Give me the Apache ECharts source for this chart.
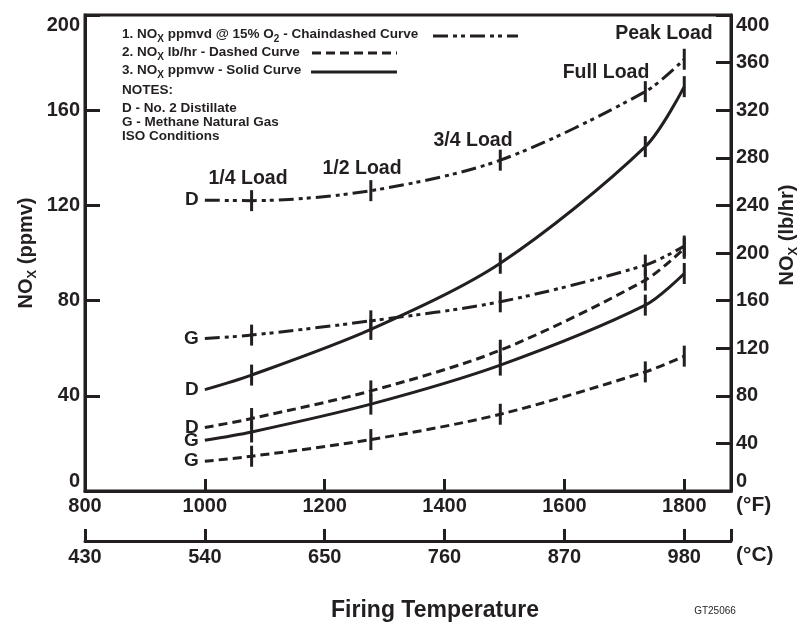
<!DOCTYPE html>
<html>
<head>
<meta charset="utf-8">
<script src="https://cdn.jsdelivr.net/npm/echarts@6/dist/echarts.min.js"></script>
<style>html,body{margin:0;padding:0;background:#fff;}#c{width:806px;height:625px;}</style>
</head>
<body>
<div id="c"></div>
<script>
// ---- data ----
const tempF = [1000, 1078, 1277, 1493, 1735, 1800];          // start, 1/4, 1/2, 3/4, Full, Peak load
const fTicks = [800, 1000, 1200, 1400, 1600, 1800];
const cLabels = ['430', '540', '650', '760', '870', '980'];
const ppmvdD = [122.2, 122.0, 126.2, 139.0, 167.8, 181.4];   // chain-dashed, left axis
const ppmvdG = [64.1, 65.5, 71.5, 79.5, 94.9, 102.9];
const ppmvwD = [42.6, 48.7, 67.9, 95.7, 144.7, 169.9];       // solid, left axis
const ppmvwG = [21.3, 24.8, 36.5, 52.9, 78.1, 91.4];
const lbhrD = [53.3, 60.9, 84.1, 118.3, 177.2, 203.9];       // dashed, right axis
const lbhrG = [25.0, 29.2, 43.2, 64.5, 100.1, 113.3];

const INK = '#231f20';
const FF = '"Liberation Sans", Arial, Helvetica, sans-serif';
const CHAIN = [15, 5, 4, 4, 4, 5];
const DASH = [9, 5];

function mk(name, data, yIdx, dash, tag) {
  return {
    type: 'line', name, xAxisIndex: 0, yAxisIndex: yIdx,
    smooth: 0.3, showAllSymbol: true,
    symbol: 'rect', symbolSize: [3, 21], silent: true,
    itemStyle: { color: INK },
    lineStyle: { color: INK, width: 3, type: dash, cap: 'butt' },
    data: tempF.map((t, i) => i === 0 ? {
      value: [t, data[i]], symbolSize: 0.1,
      label: { show: true, position: 'left', distance: 6, formatter: tag, color: INK,
               fontSize: 19, fontWeight: 'bold', fontFamily: FF }
    } : [t, data[i]])
  };
}

const axisLbl = { color: INK, fontSize: 20, fontWeight: 'bold', fontFamily: FF };
const nameRich = {
  n: { fontSize: 20, fontWeight: 'bold', fontFamily: FF, color: INK, verticalAlign: 'top' },
  s: { fontSize: 13, fontWeight: 'bold', fontFamily: FF, color: INK, verticalAlign: 'bottom', padding: [10, 0, 0, 0] }
};
const legRich = {
  b: { fontSize: 13.5, fontWeight: 'bold', fontFamily: FF, fill: INK, verticalAlign: 'top' },
  s: { fontSize: 10, fontWeight: 'bold', fontFamily: FF, fill: INK, verticalAlign: 'bottom', padding: [7, 0, 0, 0] }
};

function txt(x, y, text, size, weight, align) {
  return { type: 'text', x, y, silent: true,
    style: { text, fill: INK, fontSize: size, fontWeight: weight || 'bold', fontFamily: FF,
             align: align || 'center', verticalAlign: 'middle' } };
}
function rtxt(x, y, text) {
  return { type: 'text', x, y, silent: true,
    style: { text, rich: legRich, fill: INK, align: 'left', verticalAlign: 'middle' } };
}
function seg(x1, x2, y, dash) {
  return { type: 'line', silent: true, shape: { x1, y1: y, x2, y2: y },
    style: { stroke: INK, lineWidth: 3, lineDash: dash || null } };
}
const unitName = { color: INK, fontSize: 21, fontWeight: 'bold', fontFamily: FF, verticalAlign: 'top', padding: [4, 0, 0, 0] };

const chart = echarts.init(document.getElementById('c'), null, { renderer: 'canvas' });
chart.setOption({
  animation: false,
  backgroundColor: '#fff',
  grid: { left: 85, right: 75, top: 15, bottom: 134, show: true, borderColor: INK, borderWidth: 3,
          outerBoundsMode: 'none' },
  xAxis: [
    { type: 'value', min: 800, max: 1878, interval: 200, position: 'bottom',
      axisLine: { onZero: false, lineStyle: { color: INK, width: 3 } },
      axisTick: { inside: true, length: 12, lineStyle: { color: INK, width: 3 }, customValues: fTicks },
      axisLabel: Object.assign({ margin: 5, customValues: fTicks, formatter: v => String(v) }, axisLbl),
      splitLine: { show: false },
      name: '(°F)', nameLocation: 'end', nameGap: 5, nameTextStyle: unitName },
    { type: 'value', min: 800, max: 1878, interval: 200, position: 'bottom', offset: 50,
      axisLine: { onZero: false, lineStyle: { color: INK, width: 3 } },
      axisTick: { inside: true, length: 12, lineStyle: { color: INK, width: 3 }, customValues: fTicks.concat([1878]) },
      axisLabel: Object.assign({ margin: 6, customValues: fTicks,
        formatter: v => cLabels[fTicks.indexOf(v)] }, axisLbl),
      splitLine: { show: false },
      name: '(°C)', nameLocation: 'end', nameGap: 5, nameTextStyle: unitName }
  ],
  yAxis: [
    { type: 'value', min: 0, max: 200, interval: 40, position: 'left',
      axisLine: { show: true, onZero: false, lineStyle: { color: INK, width: 3 } },
      axisTick: { show: true, inside: true, length: 15, lineStyle: { color: INK, width: 3 } },
      axisLabel: Object.assign({ margin: 5, verticalAlignMinLabel: 'bottom', verticalAlignMaxLabel: 'top' }, axisLbl),
      splitLine: { show: false },
      name: '{n|NO}{s|X}{n| (ppmv)}', nameLocation: 'middle', nameGap: 46, nameRotate: 90,
      nameMoveOverlap: false,
      nameTextStyle: { rich: nameRich } },
    { type: 'value', min: 0, max: 400, interval: 40, position: 'right',
      axisLine: { show: true, onZero: false, lineStyle: { color: INK, width: 3 } },
      axisTick: { show: true, inside: true, length: 15, lineStyle: { color: INK, width: 3 } },
      axisLabel: Object.assign({ margin: 5, verticalAlignMinLabel: 'bottom', verticalAlignMaxLabel: 'top' }, axisLbl),
      splitLine: { show: false },
      name: '{n|NO}{s|X}{n| (lb/hr)}', nameLocation: 'middle', nameGap: 46, nameRotate: 90,
      nameMoveOverlap: false,
      nameTextStyle: { rich: nameRich, padding: [0, 0, 0, 36] } }
  ],
  series: [
    mk('ppmvd D', ppmvdD, 0, CHAIN, 'D'),
    mk('ppmvd G', ppmvdG, 0, CHAIN, 'G'),
    mk('ppmvw D', ppmvwD, 0, 'solid', 'D'),
    mk('ppmvw G', ppmvwG, 0, 'solid', 'G'),
    mk('lbhr D', lbhrD, 1, DASH, 'D'),
    mk('lbhr G', lbhrG, 1, DASH, 'G')
  ],
  graphic: [
    rtxt(122, 36, '{b|1. NO}{s|X}{b| ppmvd @ 15% O}{s|2}{b| - Chaindashed Curve}'),
    seg(433, 518, 36, CHAIN),
    rtxt(122, 54, '{b|2. NO}{s|X}{b| lb/hr - Dashed Curve}'),
    seg(312, 397, 53, DASH),
    rtxt(122, 72, '{b|3. NO}{s|X}{b| ppmvw - Solid Curve}'),
    seg(311, 397, 72),
    txt(122, 90, 'NOTES:', 13.5, 'bold', 'left'),
    txt(122, 108, 'D - No. 2 Distillate', 13.5, 'bold', 'left'),
    txt(122, 122, 'G - Methane Natural Gas', 13.5, 'bold', 'left'),
    txt(122, 136, 'ISO Conditions', 13.5, 'bold', 'left'),
    txt(248, 179, '1/4 Load', 19.5),
    txt(362, 169, '1/2 Load', 19.5),
    txt(473, 141, '3/4 Load', 19.5),
    txt(606, 73, 'Full Load', 19.5),
    txt(664, 34, 'Peak Load', 19.5),
    txt(435, 611, 'Firing Temperature', 23),
    txt(715, 611, 'GT25066', 10, 'normal')
  ]
});
</script>
</body>
</html>
